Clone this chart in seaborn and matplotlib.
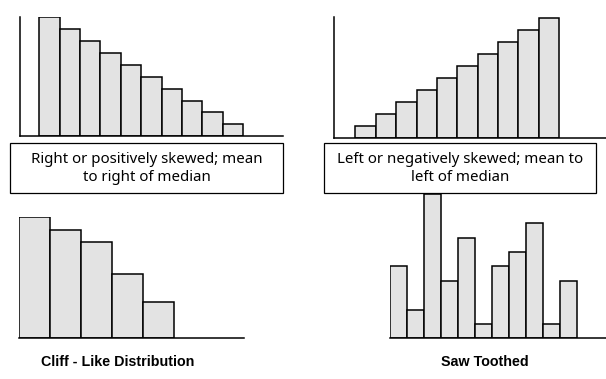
import numpy as np
import pandas as pd
import matplotlib
matplotlib.use("Agg")
import matplotlib.pyplot as plt
import seaborn as sns
from matplotlib.patches import Rectangle

# dati (altezze relative delle barre)
right_skew = [10, 9, 8, 7, 6, 5, 4, 3, 2, 1]
left_skew = [1, 2, 3, 4, 5, 6, 7, 8, 9, 10]
cliff = [10, 8.9, 7.9, 5.3, 2.95]
saw = [5, 2, 10, 4, 7, 1, 5, 6, 8, 1, 4]

right_text = "Right or positively skewed; mean\nto right of median"
left_text = "Left or negatively skewed; mean to\nleft of median"
cliff_label = "Cliff - Like Distribution"
saw_label = "Saw Toothed"

W, H = 606, 379
BAR_COLOR = "#e3e3e3"
LW = 1.1

sns.set_style("white")

fig = plt.figure(figsize=(W / 100, H / 100), dpi=100)


def px_axes(x0, y0, x1, y1):
    """Crea un asse a partire da coordinate in pixel (origine in alto a sinistra)."""
    return fig.add_axes([x0 / W, 1 - y1 / H, (x1 - x0) / W, (y1 - y0) / H])


def istogramma(ax, valori, xlim, ymax, show_left):
    df = pd.DataFrame({"bin": range(len(valori)), "val": valori})
    sns.barplot(data=df, x="bin", y="val", width=1, color=BAR_COLOR,
                edgecolor="black", linewidth=LW, ax=ax, saturation=1)
    ax.set_xlim(*xlim)
    ax.set_ylim(0, ymax)
    ax.set_xticks([])
    ax.set_yticks([])
    ax.set_xlabel("")
    ax.set_ylabel("")
    ax.patch.set_alpha(0)
    for s in ["top", "right"]:
        ax.spines[s].set_visible(False)
    ax.spines["left"].set_visible(show_left)
    for s in ["left", "bottom"]:
        ax.spines[s].set_linewidth(LW)
        ax.spines[s].set_color("black")


def riquadro(x0, y0, x1, y1, testo):
    rect = Rectangle((x0 / W, 1 - y1 / H), (x1 - x0) / W, (y1 - y0) / H,
                     transform=fig.transFigure, facecolor="white",
                     edgecolor="black", linewidth=0.9)
    fig.patches.append(rect)
    fig.text((x0 + x1) / 2 / W, 1 - (y0 + y1 + 1) / 2 / H, testo,
             ha="center", va="center", fontsize=10.8, family="Noto Sans",
             color="black", linespacing=1.3)


# asimmetria a destra
ax1 = px_axes(19.5, 17, 283, 136.3)
istogramma(ax1, right_skew, (-1.47, 11.45), 10, True)

# asimmetria a sinistra
ax2 = px_axes(334.3, 17, 606, 137.7)
istogramma(ax2, left_skew, (-1.53, 11.79), 10.05, True)

# distribuzione a precipizio
ax3 = px_axes(19.3, 217, 243.7, 338)
istogramma(ax3, cliff, (-0.5, 6.73), 10, False)

# dente di sega
ax4 = px_axes(390.3, 194.3, 606, 338.3)
istogramma(ax4, saw, (-0.5, 12.19), 10, False)

riquadro(10.3, 143.3, 282.7, 192.7, right_text)
riquadro(324.3, 143.3, 596.3, 192.7, left_text)

fig.text(117.7 / W, 1 - 362 / H, cliff_label, ha="center", va="center",
         fontsize=10.3, fontweight="bold", family="Liberation Sans", color="black")
fig.text(485 / W, 1 - 362 / H, saw_label, ha="center", va="center",
         fontsize=10.3, fontweight="bold", family="Liberation Sans", color="black")

fig.savefig("out.png", dpi=100, facecolor="white")
